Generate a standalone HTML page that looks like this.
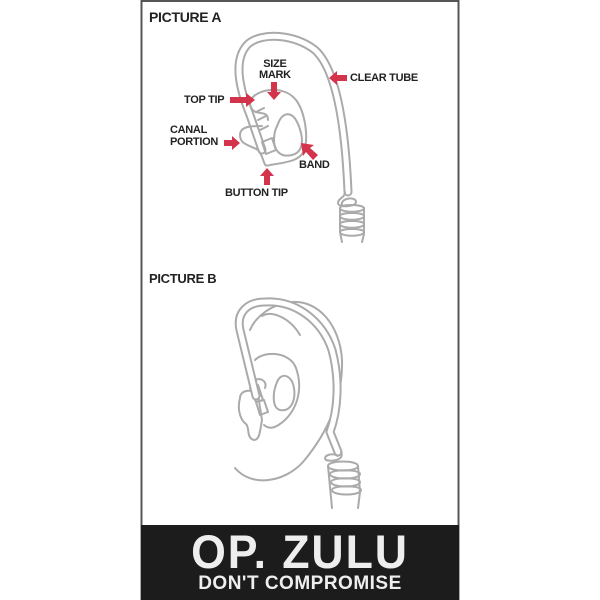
<!DOCTYPE html>
<html><head><style>
html,body{margin:0;padding:0;background:#fff;}
#w{position:relative;width:600px;height:600px;overflow:hidden;background:#fff;font-family:"Liberation Sans",Arial,sans-serif;}
.t{position:absolute;font-weight:bold;color:#222;font-size:11px;line-height:11px;letter-spacing:-0.3px}
</style></head><body><div id="w">
<svg width="600" height="600" style="position:absolute;left:0;top:0">
<rect x="141.5" y="1" width="317" height="598" fill="none" stroke="#555" stroke-width="2"/>
<g fill="none" stroke-linecap="round" stroke-linejoin="round">
<path d="M262 150 L250 115 C240 90 232 60 248 44 C262 32 295 34 315 50 C335 68 345 120 348 192" stroke="#aaa" stroke-width="9"/>
<path d="M262 150 L250 115 C240 90 232 60 248 44 C262 32 295 34 315 50 C335 68 345 120 348 192" stroke="#fff" stroke-width="5"/>
<g stroke="#aaa" stroke-width="2">
<path d="M345 192 C345 198 338 198 338 203 C338 208 356 207 356 202 C356 196 340 198 342 205"/>
<path d="M340 208 C340 213 364 213 364 208 M340 208 C340 204 362 204 364 208"/>
<path d="M340 208 C340 215 340 216 340 216 C340 221 364 221 364 216 C364 212 340 212 340 216"/>
<path d="M340 216 L340 224 C340 229 364 229 364 224 C364 220 340 220 340 224"/>
<path d="M340 224 L340 232 C340 237 364 237 364 232 C364 228 340 228 340 232 L342 242"/>
<path d="M364 208 L364 234 L362 242"/>
<path d="M253 97 C262 88 285 86 296 100 C305 112 308 135 305 148 C302 160 290 162 270 165 C262 168 266 160 258 150 C250 145 240 145 240 135 C240 126 252 126 262 126"/>
<path d="M253 97 C248 102 250 110 256 112 C262 114 268 112 268 120"/>
<path d="M278 124 C282 112 292 110 298 124 C304 138 304 152 292 155 C280 158 274 150 274 140 C274 132 276 128 278 124Z"/>
<path d="M256 112 L264 108 M258 120 L266 116 M260 130 L268 126 M262 142 L272 138 L276 150 L266 154 Z"/>
</g>
<g stroke="#aaa" stroke-width="2">
<path d="M235 468 C252 488 285 482 303 462 C330 430 343 395 342 360 C340 325 318 300 292 302 C270 304 255 318 250 330"/>
<path d="M262 316 C272 310 290 318 300 335"/>
<path d="M255 360 C265 350 290 352 296 368 C302 385 300 405 285 420 C276 428 270 430 264 425"/>
<path d="M278 380 C283 372 292 376 294 388 C296 402 290 412 280 410 C272 408 272 392 278 380Z"/>
<path d="M240 398 C240 390 252 388 258 395 L262 420 C260 430 260 440 254 440 C246 438 250 428 246 424 C238 418 238 405 240 398Z"/>
<path d="M252 382 C258 376 268 380 265 388"/>
<path d="M250 388 L258 385 L263 400 L256 402 Z M256 402 L264 400 L268 412 L260 415 Z"/>
</g>
<path d="M256 396 L240 330 C236 312 248 302 265 302 C295 300 322 320 332 350 C340 380 338 410 330 432 L338 452" stroke="#aaa" stroke-width="9"/>
<path d="M256 396 L240 330 C236 312 248 302 265 302 C295 300 322 320 332 350 C340 380 338 410 330 432 L338 452" stroke="#fff" stroke-width="5"/>
<g stroke="#aaa" stroke-width="2">
<path d="M341 452 C345 460 332 462 326 460 C322 456 332 452 338 456"/>
<path d="M328 466 C328 472 358 472 358 466 C358 460 328 460 328 466"/>
<path d="M330 474 C330 480 360 480 360 474 C360 469 330 469 330 474"/>
<path d="M331 482 C331 488 360 488 360 482 C360 477 331 477 331 482"/>
<path d="M332 490 C332 496 361 496 361 490 C361 485 332 485 332 490"/>
<path d="M328 466 L332 508 M358 466 L360 492 L358 508"/>
</g>
</g>
<g fill="#d3334b">
<polygon points="347,75 337,75 337,71 329,78 337,85 337,81 347,81"/>
<polygon points="271,82 277,82 277,92 281,92 274,100 267,92 271,92"/>
<polygon points="230,97 246,97 246,93 255,100 246,107 246,103 230,103"/>
<polygon points="224,140 232,140 232,136 240,143 232,150 232,146 224,146"/>
<polygon points="318,155 313,160 306,152 303,156 301,143 314,145 310,148"/>
<polygon points="264,185 270,185 270,176 274,176 267,168 260,176 264,176"/>
</g>
</svg>
<div class="t" style="left:149px;top:10px;font-size:14px;line-height:14px">PICTURE A</div>
<div class="t" style="left:350px;top:73px">CLEAR TUBE</div>
<div class="t" style="left:259px;top:59px;text-align:center;line-height:11px">SIZE<br>MARK</div>
<div class="t" style="left:184px;top:95px">TOP TIP</div>
<div class="t" style="left:170px;top:124px;line-height:12px">CANAL<br>PORTION</div>
<div class="t" style="left:299px;top:160px">BAND</div>
<div class="t" style="left:225px;top:188px">BUTTON TIP</div>
<div class="t" style="left:149px;top:272px;font-size:13px;line-height:13px">PICTURE B</div>
<div style="position:absolute;left:141px;top:525px;width:318px;height:75px;background:#1c1c1c;color:#eee;text-align:center;font-family:'Liberation Sans',sans-serif;font-weight:bold">
<div style="position:absolute;left:0;width:100%;top:5px;font-size:47px;line-height:44px;letter-spacing:2px;transform:scaleX(0.95)">OP. ZULU</div>
<div style="position:absolute;left:0;width:100%;top:50px;font-size:19px;line-height:18px;letter-spacing:0.5px">DON'T COMPROMISE</div>
</div>
</div></body></html>
